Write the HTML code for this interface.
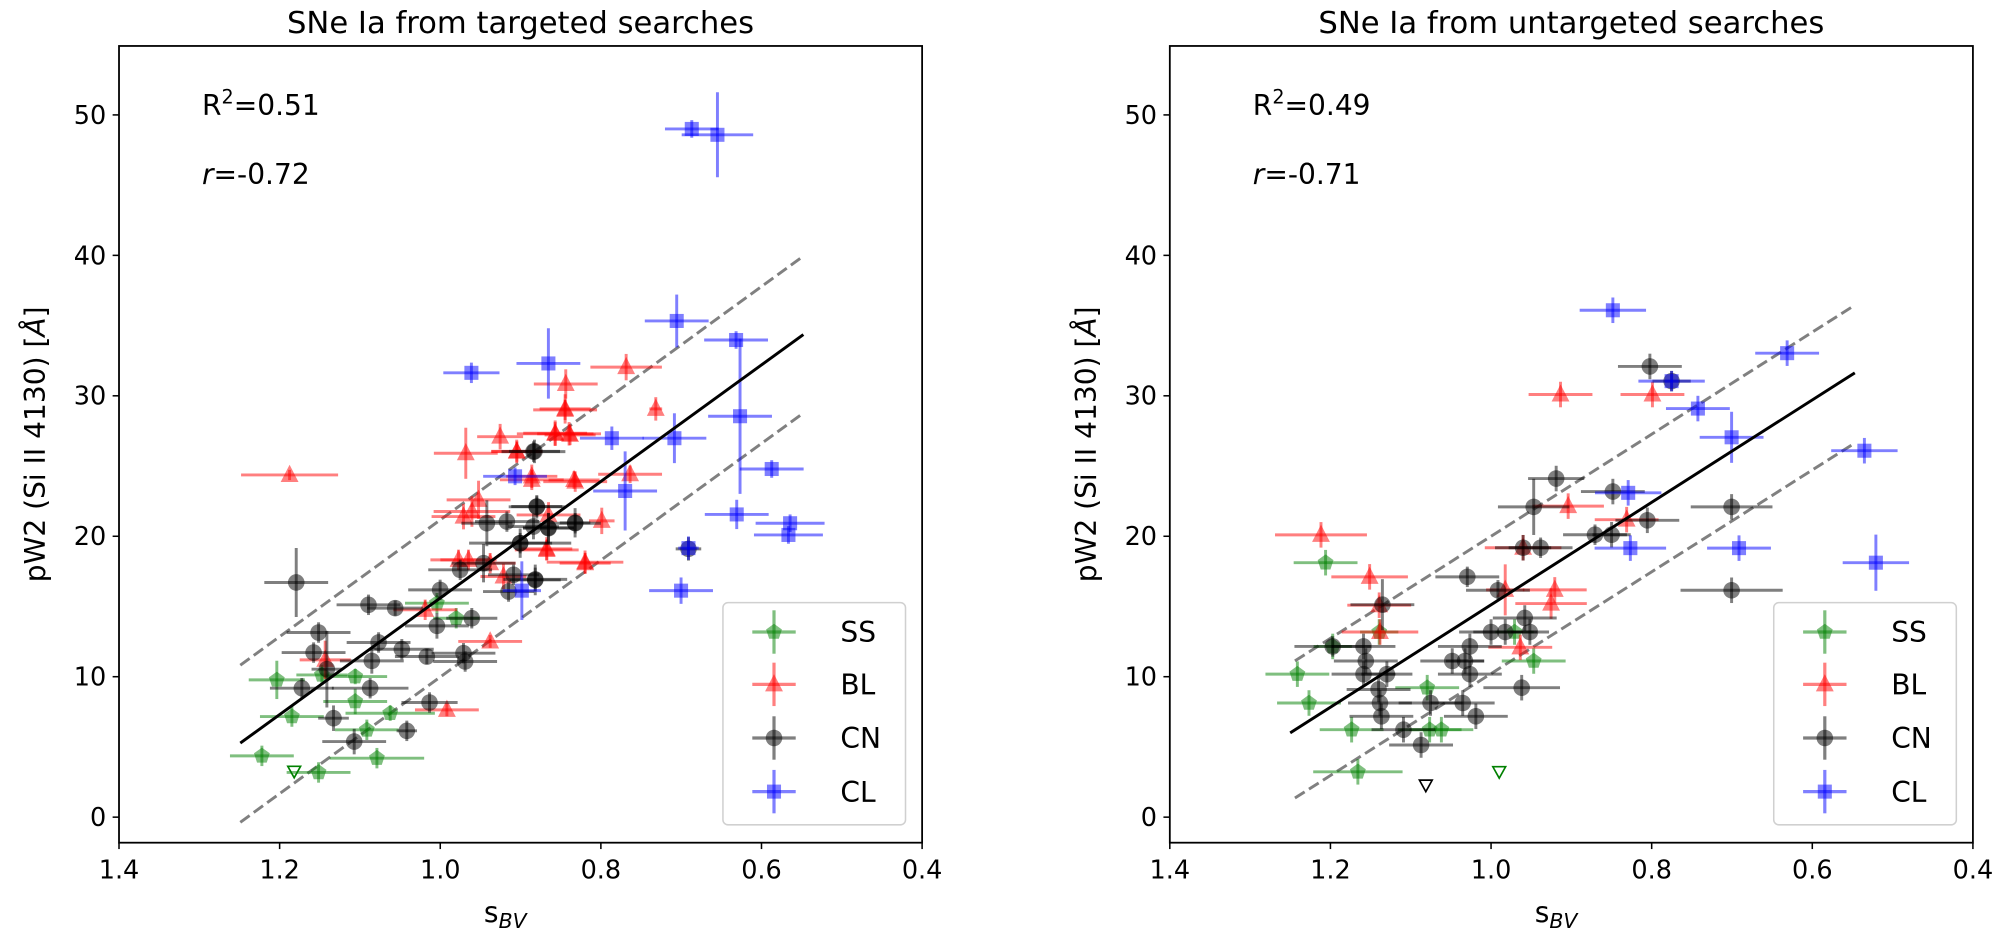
<!DOCTYPE html>
<html><head><meta charset="utf-8"><style>
html,body{margin:0;padding:0;background:#fff;width:2000px;height:941px;overflow:hidden}
svg{display:block}
text{font-family:"DejaVu Sans","Liberation Sans",sans-serif;fill:#000}
</style></head><body>
<svg id="s" width="2000" height="941" viewBox="0 0 1566 737" xmlns="http://www.w3.org/2000/svg"></svg>
<script>
const S=document.getElementById('s');let h='';
const C={SS:'#008000',BL:'#ff0000',CN:'#000000',CL:'#0000ff'};
function mk(t,x,y,c){
 if(t=='CN')return `<circle cx="${x}" cy="${y}" r="6.5" fill="${c}" fill-opacity="0.5"/>`;
 if(t=='CL')return `<rect x="${x-5.5}" y="${y-5.5}" width="11" height="11" fill="${c}" fill-opacity="0.5"/>`;
 if(t=='BL')return `<polygon points="${x},${y-8} ${x+7},${y+5.5} ${x-7},${y+5.5}" fill="${c}" fill-opacity="0.5"/>`;
 let p=[];for(let i=0;i<5;i++){let a=-Math.PI/2+i*2*Math.PI/5;p.push((x+6.5*Math.cos(a)).toFixed(1)+','+(y+6.5*Math.sin(a)).toFixed(1));}
 return `<polygon points="${p.join(' ')}" fill="${c}" fill-opacity="0.5"/>`;
}
function pt(t,a){const c=C[t];let [x,y,ex,ey]=a;ex=ex||22;ey=ey||9;
 h+=`<g stroke="${c}" stroke-opacity="0.5" stroke-width="2.3"><line x1="${x-ex}" y1="${y}" x2="${x+ex}" y2="${y}"/><line x1="${x}" y1="${y-ey}" x2="${x}" y2="${y+ey}"/></g>`+mk(t,x,y,c);}
function fx(arr){return arr.map(([x,y,ex,ey])=>[x,31.3+(y-31.3)*1.148,ex,ey*1.148]);}
const D={
L:{CL:fx([[541.6,92,21,6],[561.7,96,28,29],[529.8,223,25,18],[576.3,236,25,6],[579.4,288,25,53],[604.2,324,25,6],[576.8,355,25,10],[618.6,361,27,6],[617.3,369,27,6],[539,378,8,8],[533.2,407,25,9],[528,303,25,17],[489.4,339,25,27],[429.3,252,25,24],[479,303,25,8],[408.5,407,15,20],[403.2,329,25,6]]).concat([[369,292,22,8]]),
BL:fx([[490.2,254.5,28,9],[442.9,266,25,10],[442.4,283,20,10],[513.4,283,5,8],[434.6,300,30,8],[445.5,300,25,8],[416.3,329,20,8],[449.4,331.5,20,6],[493.3,327.6,25,6],[471.1,359.4,10,9],[458,387.6,30,8],[428,378.5,20,8],[404.5,312,20,8]]).concat([
[226.6,372,38,4],[442.4,321,25,8],[391.5,342,18,10],[434.6,339.3,25,10],[446.3,340.6,20,8],[364.6,355,25,20],[404.6,353.7,20,8],[416.3,375.8,25,8],[450.3,377.2,25,8],[374.6,391.5,25,15],[369.4,400.6,30,12],[362.8,404.6,25,10],[429.4,403.3,25,10],[358.9,438.5,22,8],[366.7,438.5,22,8],[383.7,441.1,20,8],[428,430.7,25,8],[458.1,441.1,20,8],[394.1,451.5,18,10],[332.8,477.6,25,8],[383.7,502.4,25,5],[254.5,516.8,20,15],[349.8,556,25,5]]),
CN:fx([[418.4,312,20,8],[420.2,349.8,22,8],[450.2,360.7,12,10],[429.3,364.1,20,10],[407.2,374.6,25,10],[419,399.3,25,8],[539,378.5,10,8]]).concat([
[417.6,353.7,25,8],[381.1,409.8,20,18],[396.8,408.5,25,8],[417.6,412.4,20,10],[429.4,413.7,20,12],[450.3,409.8,20,8],[420.2,396.7,20,8],[407.2,425.4,40,8],[360.2,446.3,25,8],[378.5,441.1,25,15],[402,450.2,20,8],[419,454.2,20,12],[398.1,463.3,20,8],[231.8,456.2,25,27],[344.5,462,25,8],[288.4,473.7,25,8],[309.3,476.3,22,6],[369.3,484.2,20,8],[342,490.2,25,10],[249.3,495.4,25,8],[296.3,503.2,25,8],[314.5,508.5,25,8],[245.4,511.1,25,8],[291,517.6,25,10],[334.1,514.2,25,6],[362.8,511.6,25,8],[364.1,518.1,25,8],[255.8,524.1,12,30],[236.2,539,25,8],[289.7,539,30,8],[261,562.5,12,10],[336.2,550.2,22,8],[318.4,572.4,8,8],[277.2,580.8,25,10]]),
SS:[[342,472.4,25,8],[357.1,484.2,18,8],[216.6,532.5,22,15],[251.9,528.6,20,8],[278,529.9,25,6],[278,549.4,25,10],[305.4,558.6,35,6],[228.4,561.2,25,8],[287.1,571.6,25,8],[204.9,592,25,8],[295,593.8,37,8],[249.3,605,25,8]]},
R:{CL:[[1263,243,26,10],[1399.5,276.6,25,10],[1309,298.5,26,8],[1329.6,320,25,10],[1356,342.5,25,20],[1460,353,26,10],[1275,386,26,10],[1276.7,429.3,28,10],[1361.8,429.3,25,10],[1469,440.7,26,22]],
BL:[[1034.4,418.9,36,10],[1222,309,25,10],[1294,309,25,10],[1072.5,451.8,30,10],[1080,474,25,10],[1080.6,495,30,10],[1228,396.4,28,10],[1273.8,407,25,10],[1192.7,429,30,10],[1178.7,462,15,20],[1217.5,462,25,10],[1214.6,472.7,28,12],[1190.5,507,25,10]],
CN:[[1292,287,25,10],[1309,298.5,15,8],[1218.6,374.8,22,10],[1201,397,28,22],[1263,385,25,10],[1290,407.5,25,10],[1249,418.8,25,8],[1262,418.8,15,10],[1356,397,32,10],[1356,462.3,40,10],[1192.7,429,22,10],[1206.4,429,25,8],[1149,451.8,25,8],[1173,462.3,25,8],[1082.5,473.6,25,20],[1194,484,25,10],[1167.6,495,25,10],[1178.7,495,25,10],[1198,495,15,10],[1043.6,506.3,30,8],[1067.7,506.3,25,10],[1151,506.3,25,10],[1069.5,517.7,25,10],[1137.2,517.7,25,10],[1147.2,517.7,15,10],[1067.7,528,25,10],[1086,528,20,10],[1151,528,25,10],[1079.5,540,25,10],[1191.6,538.6,30,10],[1120.2,550.6,25,10],[1145.4,550.6,25,10],[1080.6,550.6,25,10],[1081.7,561,25,10],[1155.7,561,25,10],[1099,571.5,25,10],[1112.8,583.5,25,10]],
SS:[[1038,440.7,25,10],[1043.6,506.3,15,10],[1015.9,528,25,10],[1025,550.6,25,10],[1080,495,15,10],[1117.6,538.6,25,10],[1186,495,15,10],[1201,517.7,25,10],[1058.4,571.5,25,10],[1119.5,571.5,25,10],[1128.7,571.5,25,10],[1063.3,604.5,35,10]]}};
function panel(x0,d,title,R2,r,fit,up,lo,tris){
 const w=629,y0=36,y1=660;
 h+=`<text x="${x0+w/2}" y="26" font-size="24" text-anchor="middle">${title}</text>`;
 h+=`<line x1="${up[0]}" y1="${up[1]}" x2="${up[2]}" y2="${up[3]}" stroke="#808080" stroke-width="2.3" stroke-dasharray="9,4"/>`;
 h+=`<line x1="${lo[0]}" y1="${lo[1]}" x2="${lo[2]}" y2="${lo[3]}" stroke="#808080" stroke-width="2.3" stroke-dasharray="9,4"/>`;
 for(const t of ['SS','BL','CN','CL'])for(const a of d[t])pt(t,a);
 h+=`<line x1="${fit[0]}" y1="${fit[1]}" x2="${fit[2]}" y2="${fit[3]}" stroke="#000" stroke-width="2.3"/>`;
 for(const [x,y,c] of tris)h+=`<polygon points="${x-5},${y-4} ${x+5},${y-4} ${x},${y+5}" fill="none" stroke="${c}" stroke-width="1.3"/>`;
 h+=`<rect x="${x0}" y="${y0}" width="${w}" height="${y1-y0}" fill="none" stroke="#000" stroke-width="1.4"/>`;
 for(let i=0;i<=5;i++){const x=x0+i*w/5;h+=`<line x1="${x}" y1="${y1}" x2="${x}" y2="${y1+5}" stroke="#000" stroke-width="1.2"/><text x="${x}" y="${y1+28}" font-size="20" text-anchor="middle">${(1.4-i*0.2).toFixed(1)}</text>`;}
 for(let v=0;v<=50;v+=10){const y=640-v*11;h+=`<line x1="${x0-5}" y1="${y}" x2="${x0}" y2="${y}" stroke="#000" stroke-width="1.2"/><text x="${x0-10}" y="${y+7}" font-size="20" text-anchor="end">${v}</text>`;}
 h+=`<text x="${x0+w/2-12}" y="${y1+62}" font-size="22" text-anchor="middle">s<tspan font-size="16" font-style="italic" dy="5">BV</tspan></text>`;
 h+=`<text transform="translate(${x0-58},${(y0+y1)/2}) rotate(-90)" font-size="22" text-anchor="middle">pW2 (Si II 4130) [<tspan font-style="italic">Å</tspan>]</text>`;
 h+=`<text x="${x0+65}" y="90" font-size="22">R<tspan font-size="15" dy="-9">2</tspan><tspan dy="9">=${R2}</tspan></text>`;
 h+=`<text x="${x0+65}" y="144" font-size="22"><tspan font-style="italic">r</tspan>=${r}</text>`;
 const lx=x0+473;
 h+=`<rect x="${lx}" y="472" width="143" height="174" rx="4" fill="#fff" fill-opacity="0.8" stroke="#d0d0d0" stroke-width="1.2"/>`;
 [['SS',495],['BL',536],['CN',578],['CL',620]].forEach(([t,y])=>{const c=C[t],mx=lx+40;
  h+=`<g stroke="${c}" stroke-opacity="0.5" stroke-width="2.5"><line x1="${mx-17}" y1="${y}" x2="${mx+17}" y2="${y}"/><line x1="${mx}" y1="${y-17}" x2="${mx}" y2="${y+17}"/></g>`+mk(t,mx,y,c)+`<text x="${lx+92}" y="${y+8}" font-size="22">${t}</text>`;});
}
panel(93,D.L,'SNe Ia from targeted searches','0.51','-0.72',[188,582,629,262],[188,521,629,200.6],[188,644,629,323.5],[[230.2,604.2,'#008000']]);
panel(916,D.R,'SNe Ia from untargeted searches','0.49','-0.71',[1010.3,574,1452.5,292],[1014,517.6,1452.5,239],[1014,625,1452.5,347],[[1116.5,615,'#000'],[1174,604.5,'#008000']]);
S.innerHTML=h;
</script>
</body></html>
